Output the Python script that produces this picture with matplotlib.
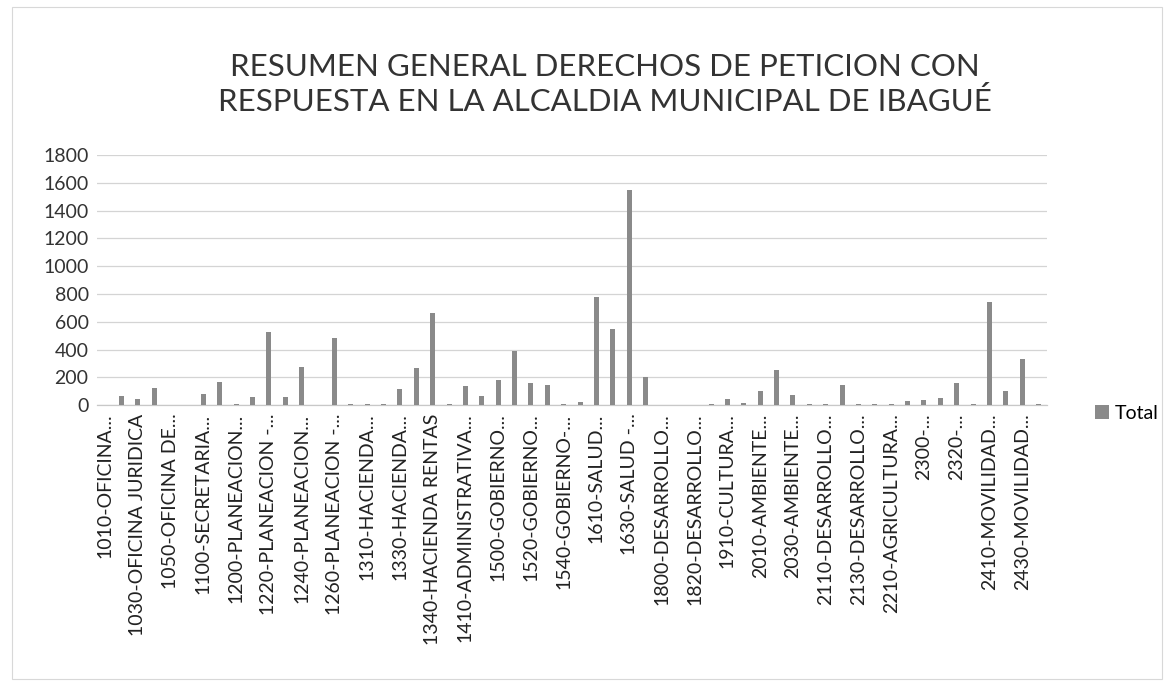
import matplotlib
matplotlib.use("Agg")
import matplotlib.pyplot as plt
from matplotlib.patches import Rectangle
import numpy as np

categories = [
    "1010-OFICINA...", "1020-OFICINA...", "1030-OFICINA JURIDICA", "1040-OFICINA...",
    "1050-OFICINA DE...", "1060-OFICINA...", "1100-SECRETARIA...", "1110-SECRETARIA...",
    "1200-PLANEACION...", "1210-PLANEACION...", "1220-PLANEACION -...", "1230-PLANEACION...",
    "1240-PLANEACION...", "1250-PLANEACION...", "1260-PLANEACION -...", "1300-HACIENDA...",
    "1310-HACIENDA...", "1320-HACIENDA...", "1330-HACIENDA...", "1335-HACIENDA...",
    "1340-HACIENDA RENTAS", "1400-ADMINISTRATIVA...", "1410-ADMINISTRATIVA...", "1420-ADMINISTRATIVA...",
    "1500-GOBIERNO...", "1510-GOBIERNO...", "1520-GOBIERNO...", "1530-GOBIERNO...",
    "1540-GOBIERNO-...", "1600-SALUD...", "1610-SALUD...", "1620-SALUD...",
    "1630-SALUD -...", "1640-SALUD...", "1800-DESARROLLO...", "1810-DESARROLLO...",
    "1820-DESARROLLO...", "1900-CULTURA...", "1910-CULTURA...", "2000-AMBIENTE...",
    "2010-AMBIENTE...", "2020-AMBIENTE...", "2030-AMBIENTE...", "2100-DESARROLLO...",
    "2110-DESARROLLO...", "2120-DESARROLLO...", "2130-DESARROLLO...", "2200-AGRICULTURA...",
    "2210-AGRICULTURA...", "2220-AGRICULTURA...", "2300-...", "2310-...",
    "2320-...", "2400-MOVILIDAD...", "2410-MOVILIDAD...", "2420-MOVILIDAD...",
    "2430-MOVILIDAD...", "2440-MOVILIDAD...",
]

total = [
    0, 65, 45, 125, 0, 0, 80, 167, 5, 55,
    528, 55, 275, 0, 485, 8, 5, 6, 115, 264,
    662, 9, 140, 68, 178, 393, 160, 142, 7, 25,
    775, 550, 1550, 200, 4, 0, 0, 10, 45, 12,
    102, 253, 76, 6, 6, 144, 5, 6, 5, 30,
    36, 52, 160, 7, 740, 102, 334, 7,
]

series_name = "Total"
title = "RESUMEN GENERAL DERECHOS DE PETICION CON\nRESPUESTA EN LA ALCALDIA MUNICIPAL DE IBAGUÉ"
y_ticks = [0, 200, 400, 600, 800, 1000, 1200, 1400, 1600, 1800]

plt.rcParams['font.family'] = ['Lato', 'DejaVu Sans']

fig = plt.figure(figsize=(11.74, 6.89), dpi=100)
ax = fig.add_axes([0.0826, 0.412, 0.809, 0.363])

x = np.arange(len(categories))
ax.bar(x, total, width=0.31, color="#8a8a8a", label=series_name, zorder=3)

ax.set_ylim(0, 1800)
ax.set_xlim(-0.5, len(categories) - 0.5)
ax.set_yticks(y_ticks)
ax.set_yticklabels([str(v) for v in y_ticks], fontsize=14, color="#333333")
ax.yaxis.grid(True, color="#d4d4d4", linewidth=0.9, zorder=0)
ax.set_xticks(x[::2])
ax.set_xticklabels(categories[::2], rotation=90, fontsize=14, color="#222222")
ax.tick_params(axis='both', length=0, pad=6)
for s in ["top", "right", "left"]:
    ax.spines[s].set_visible(False)
ax.spines["bottom"].set_color("#c8c8c8")
ax.spines["bottom"].set_linewidth(0.9)

fig.text(0.515, 0.877, title, ha="center", va="center", fontsize=22.5,
         color="#333333", linespacing=1.25)

ax.legend(loc="center left", bbox_to_anchor=(0.918, 0.40), bbox_transform=fig.transFigure,
          frameon=False, fontsize=14, handlelength=0.7, handleheight=0.7,
          handletextpad=0.3)

fig.patches.append(Rectangle((0.01, 0.015), 0.98, 0.975, transform=fig.transFigure,
                             fill=False, edgecolor="#d8d8d8", linewidth=0.8))

fig.savefig("out.png", dpi=100, facecolor="white")
